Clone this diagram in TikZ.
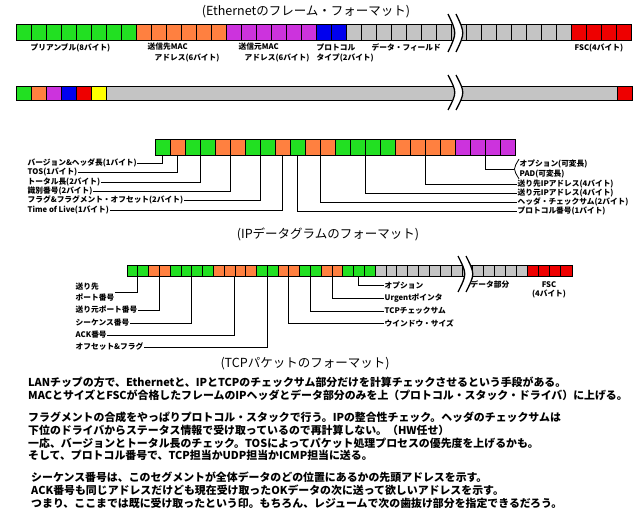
\documentclass[tikz,border=0pt]{standalone}
\usepackage{fontspec}
\setmainfont{Noto Sans CJK JP}
\usetikzlibrary{calc}
\definecolor{vert}{HTML}{22E022}
\definecolor{orange}{HTML}{FF8040}
\definecolor{violet}{HTML}{CC33DD}
\definecolor{bleu}{HTML}{0000EE}
\definecolor{rouge}{HTML}{EE0000}
\definecolor{gris}{HTML}{C4C4C4}
\definecolor{jaune}{HTML}{FFFF00}
\tikzstyle{cellule} = [draw=black, line width=0.6pt]
\tikzstyle{etiquette} = [inner sep=0.5pt, font=\fontsize{7.7}{9}\selectfont\bfseries, align=left]
\tikzstyle{titre} = [inner sep=0pt, font=\fontsize{12.5}{14}\selectfont]
\tikzstyle{texte} = [inner sep=0pt, anchor=north west, align=left, font=\fontsize{10.9}{12.7}\selectfont\bfseries]
\tikzstyle{trait} = [line width=0.8pt]
% rangee de cases : x0, y, largeur, hauteur, couleurs
\newcommand{\rangee}[5]{%
  \foreach \c [count=\i from 0] in {#5} {\draw[cellule, fill=\c] ({#1+\i*#3},#2) rectangle ++(#3,#4);}}
% coupure : x, y haut, y bas
\newcommand{\coupure}[3]{%
  \fill[white] (#1,#2) .. controls ({#1+9},{(#2+#3)/2}) .. (#1,#3) -- ({#1+8},#3) .. controls ({#1+17},{(#2+#3)/2}) .. ({#1+8},#2) -- cycle;
  \draw[line width=1.3pt] (#1,#2) .. controls ({#1+9},{(#2+#3)/2}) .. (#1,#3);
  \draw[line width=1.3pt] ({#1+8},#2) .. controls ({#1+17},{(#2+#3)/2}) .. ({#1+8},#3);}

\begin{document}
\begin{tikzpicture}[x=1pt, y=-1pt]
        \useasboundingbox (0,0) rectangle (640,508);

        % Ethernet
        \node (tEth) [titre] at (306,12) {(Ethernetのフレーム・フォーマット)};
        \rangee{16}{24}{15}{16}{vert,vert,vert,vert,vert,vert,vert,vert,orange,orange,orange,orange,orange,orange,violet,violet,violet,violet,violet,violet,bleu,bleu,gris,gris,gris,gris,gris,gris,gris,gris,gris,gris,gris,gris,gris,gris,gris,rouge,rouge,rouge,rouge}
        \coupure{448}{14}{52}
        \node (ePre) [etiquette, anchor=west] at (30,48) {プリアンブル(8バイト)};
        \node (eDst) [etiquette, anchor=west] at (147,47) {送信先MAC};
        \node (eDst2) [etiquette, anchor=west] at (154,58) {アドレス(6バイト)};
        \node (eSrc) [etiquette, anchor=west] at (238,47) {送信元MAC};
        \node (eSrc2) [etiquette, anchor=west] at (244,58) {アドレス(6バイト)};
        \node (eTyp) [etiquette, anchor=west] at (316,47) {プロトコル};
        \node (eTyp2) [etiquette, anchor=west] at (316,58) {タイプ(2バイト)};
        \node (eData) [etiquette, anchor=west] at (371,47) {データ・フィールド};
        \node (eFsc) [etiquette, anchor=west] at (574,48) {FSC(4バイト)};

        \rangee{16}{86}{15}{14}{vert,orange,violet,bleu,rouge,jaune}
        \draw[cellule, fill=gris] (106,86) rectangle (617,100);
        \draw[cellule, fill=rouge] (617,86) rectangle (632,100);
        \coupure{448}{75}{110}

        % IP
        \rangee{155}{139}{15}{16}{vert,orange,vert,vert,orange,orange,vert,vert,orange,vert,orange,orange,vert,vert,vert,vert,orange,orange,orange,orange,violet,violet,violet,violet}
        \coordinate (iVer) at (162.5,155);
        \coordinate (iTos) at (177.5,155);
        \coordinate (iLen) at (200,155);
        \coordinate (iId) at (230,155);
        \coordinate (iFrag) at (260,155);
        \coordinate (iTtl) at (282.5,155);
        \coordinate (iProto) at (297.5,155);
        \coordinate (iChk) at (320,155);
        \coordinate (iSrc) at (365,155);
        \coordinate (iDst) at (425,155);
        \coordinate (iOpt) at (485,155);

        \node (lVer) [etiquette, anchor=west] at (27,163) {バージョン\&ヘッダ長(1バイト)};
        \node (lTos) [etiquette, anchor=west] at (27,172) {TOS(1バイト)};
        \node (lLen) [etiquette, anchor=west] at (27,182) {トータル長(2バイト)};
        \node (lId) [etiquette, anchor=west] at (27,191) {識別番号(2バイト)};
        \node (lFrag) [etiquette, anchor=west] at (27,200) {フラグ\&フラグメント・オフセット(2バイト)};
        \node (lTtl) [etiquette, anchor=west] at (27,210) {Time of Live(1バイト)};
        \foreach \a/\b in {Ver/Ver, Tos/Tos, Len/Len, Id/Id, Frag/Frag, Ttl/Ttl}
            \draw[trait] (i\a) |- (l\b.east);

        \node (rOpt) [etiquette, anchor=west] at (519,164) {オプション(可変長)};
        \node (rPad) [etiquette, anchor=west] at (519,174) {PAD(可変長)};
        \node (rDst) [etiquette, anchor=west] at (517,184) {送り先IPアドレス(4バイト)};
        \node (rSrc) [etiquette, anchor=west] at (517,193) {送り元IPアドレス(4バイト)};
        \node (rChk) [etiquette, anchor=west] at (517,202) {ヘッダ・チェックサム(2バイト)};
        \node (rProto) [etiquette, anchor=west] at (517,211) {プロトコル番号(1バイト)};
        \coordinate (accolade) at (517,169);
        \draw[trait] (rOpt.north west) .. controls ($(accolade)+(-4,0)$) .. (rPad.south west);
        \draw[trait] (iOpt) |- ($(accolade)+(-3,0)$);
        \foreach \a in {Dst, Src, Chk, Proto}
            \draw[trait] (i\a) |- (r\a.west);
        \node (tIp) [titre] at (328,234) {(IPデータグラムのフォーマット)};

        % TCP
        \rangee{127}{265}{10.78}{11}{vert,vert,orange,orange,vert,vert,vert,vert,orange,orange,orange,orange,vert,vert,orange,orange,vert,vert,orange,orange,vert,vert,vert}
        \rangee{375}{265}{10.86}{11}{gris,gris,gris,gris,gris,gris,gris,gris,gris,gris,gris,gris,gris,gris}
        \rangee{527}{265}{11.25}{11}{rouge,rouge,rouge,rouge}
        \coupure{458}{256}{292}
        \coordinate (tDport) at (137.8,276);
        \coordinate (tSport) at (159.3,276);
        \coordinate (tSeq) at (191.7,276);
        \coordinate (tAck) at (234.8,276);
        \coordinate (tOff) at (267.2,276);
        \coordinate (tWin) at (288.8,276);
        \coordinate (tChk) at (310.3,276);
        \coordinate (tUrg) at (331.9,276);
        \coordinate (tOpt) at (358.8,276);

        \node (lDport) [etiquette, anchor=west, font=\fontsize{7.7}{11}\selectfont\bfseries] at (75,292) {送り先\\ポート番号};
        \node (lSport) [etiquette, anchor=west] at (75,310) {送り元ポート番号};
        \node (lSeq) [etiquette, anchor=west] at (75,323) {シーケンス番号};
        \node (lAck) [etiquette, anchor=west] at (75,335) {ACK番号};
        \node (lOff) [etiquette, anchor=west] at (75,347) {オフセット\&フラグ};
        \foreach \a in {Dport, Sport, Seq, Ack, Off}
            \draw[trait] (t\a) |- (l\a.east);

        \node (rOpt) [etiquette, anchor=west] at (384,285) {オプション};
        \node (rUrg) [etiquette, anchor=west] at (384,298) {Urgentポインタ};
        \node (rChk) [etiquette, anchor=west] at (384,311) {TCPチェックサム};
        \node (rWin) [etiquette, anchor=west] at (384,323) {ウインドウ・サイズ};
        \foreach \a in {Opt, Urg, Chk, Win}
            \draw[trait] (t\a) |- (r\a.west);
        \node (rData) [etiquette, anchor=west] at (470,285) {データ部分};
        \node (rFsc) [etiquette, align=center] at (549,290) {FSC\\(4バイト)};
        \node (tTcp) [titre] at (305,364) {(TCPパケットのフォーマット)};

        % commentaires
        \node (p1) [texte] at (28,377) {LANチップの方で、Ethernetと、IPとTCPのチェックサム部分だけを計算チェックさせるという手段がある。\\
            MACとサイズとFSCが合格したフレームのIPヘッダとデータ部分のみを上（プロトコル・スタック・ドライバ）に上げる。};
        \node (p2) [texte] at (28,412) {フラグメントの合成をやっぱりプロトコル・スタックで行う。IPの整合性チェック。ヘッダのチェックサムは\\
            下位のドライバからステータス情報で受け取っているので再計算しない。（HW任せ）\\
            一応、バージョンとトータル長のチェック。TOSによってパケット処理プロセスの優先度を上げるかも。\\
            そして、プロトコル番号で、TCP担当かUDP担当かICMP担当に送る。};
        \node (p3) [texte] at (31,472) {シーケンス番号は、このセグメントが全体データのどの位置にあるかの先頭アドレスを示す。\\
            ACK番号も同じアドレスだけども現在受け取ったOKデータの次に送って欲しいアドレスを示す。\\
            つまり、ここまでは既に受け取ったという印。もちろん、レジュームで次の歯抜け部分を指定できるだろう。};

\end{tikzpicture}
\end{document}
